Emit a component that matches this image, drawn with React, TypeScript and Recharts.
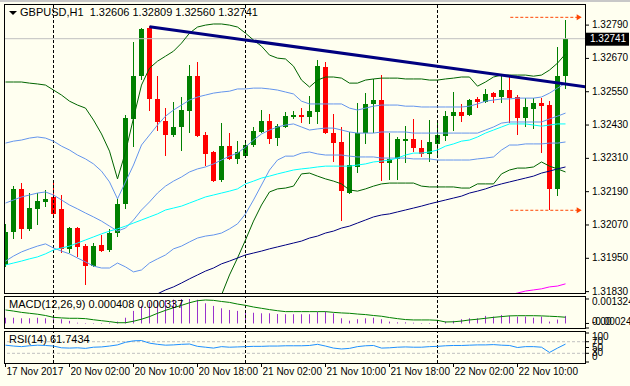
import React from "react";
import {
  ComposedChart,
  Bar,
  Line,
  XAxis,
  YAxis,
  ReferenceLine,
  ReferenceDot,
} from "recharts";

const FONT = "'Liberation Sans Narrow', 'Liberation Sans', Arial, sans-serif";
const BG = "#FFFFF0";

// GBPUSD H1, one entry per bar (17 Nov 18:00 .. 22 Nov 16:00)
const opens = [
  1.31925, 1.32044, 1.32199, 1.32055, 1.32127, 1.32152, 1.3217, 1.32127, 1.31983, 1.32058, 1.31993, 1.31921, 1.31997, 1.31979, 1.3204,
  1.32145, 1.32451, 1.32606, 1.32779, 1.32523, 1.32444, 1.32394, 1.32422, 1.3248, 1.32606, 1.32394, 1.32332, 1.32231, 1.32354, 1.32307,
  1.32318, 1.32358, 1.32404, 1.32444, 1.32383, 1.32422, 1.32458, 1.32466, 1.32458, 1.32476, 1.32639, 1.32401, 1.32368, 1.32185, 1.32278,
  1.32401, 1.32505, 1.3252, 1.32293, 1.32307, 1.32372, 1.32379, 1.32347, 1.32325, 1.32361, 1.3239, 1.32462, 1.32476, 1.32466, 1.32523,
  1.32512, 1.32545, 1.32531, 1.32556, 1.32531, 1.32455, 1.32487, 1.32509, 1.32502, 1.32199, 1.32606,
];
const highs = [
  1.32073, 1.3221, 1.32221, 1.32185, 1.32185, 1.32195, 1.32221, 1.32177, 1.32062, 1.32062, 1.32001, 1.32004, 1.32033, 1.32055, 1.32163,
  1.32466, 1.32729, 1.32779, 1.32786, 1.32606, 1.32491, 1.32512, 1.32531, 1.32646, 1.32657, 1.32404, 1.32336, 1.32437, 1.32401, 1.32372,
  1.32376, 1.32422, 1.32484, 1.32469, 1.32433, 1.32476, 1.3248, 1.32491, 1.32534, 1.32664, 1.32657, 1.32469, 1.32422, 1.32404, 1.32509,
  1.32545, 1.32595, 1.3261, 1.32401, 1.32386, 1.32426, 1.32451, 1.32376, 1.32448, 1.32448, 1.3248, 1.32549, 1.32505, 1.32523, 1.32531,
  1.32559, 1.32549, 1.32606, 1.32603, 1.32538, 1.32527, 1.32527, 1.32527, 1.32516, 1.32711, 1.32809,
];
const lows = [
  1.31918, 1.32019, 1.32019, 1.3205, 1.32069, 1.32134, 1.32105, 1.31968, 1.31968, 1.31954, 1.31853, 1.31918, 1.31972, 1.31972, 1.32026,
  1.32127, 1.3235, 1.32592, 1.3248, 1.32408, 1.32318, 1.32386, 1.32336, 1.32401, 1.32386, 1.32282, 1.32224, 1.32224, 1.32303, 1.32289,
  1.32314, 1.3235, 1.32401, 1.32361, 1.32354, 1.32419, 1.32451, 1.32437, 1.32433, 1.32433, 1.32397, 1.32296, 1.32084, 1.32182, 1.32257,
  1.32361, 1.32401, 1.32228, 1.32231, 1.32231, 1.32293, 1.32332, 1.32314, 1.32296, 1.32314, 1.32372, 1.32408, 1.3244, 1.32462, 1.32491,
  1.32509, 1.32509, 1.32509, 1.32437, 1.32394, 1.32422, 1.32415, 1.32329, 1.32123, 1.32174, 1.3256,
];
const closes = [
  1.32044, 1.32199, 1.32055, 1.3213, 1.32156, 1.32163, 1.32109, 1.31983, 1.32058, 1.3199, 1.31921, 1.31993, 1.31976, 1.3204, 1.32145,
  1.32455, 1.32606, 1.32776, 1.32523, 1.3244, 1.32394, 1.32422, 1.32484, 1.32606, 1.3239, 1.32325, 1.32228, 1.32354, 1.32307, 1.32332,
  1.32358, 1.32408, 1.32444, 1.32379, 1.32426, 1.32462, 1.32466, 1.32458, 1.3248, 1.32642, 1.32401, 1.32365, 1.32192, 1.32285, 1.32401,
  1.32505, 1.3252, 1.32293, 1.32307, 1.32379, 1.32379, 1.32347, 1.32325, 1.32368, 1.32394, 1.32462, 1.32476, 1.32462, 1.3252, 1.32512,
  1.32541, 1.32531, 1.32556, 1.32527, 1.32455, 1.32494, 1.32509, 1.32498, 1.32199, 1.32606, 1.32741,
];

// dark green envelope
const outerUpper = [
  1.32585, 1.32585, 1.32585, 1.32581, 1.32578, 1.32574, 1.32556, 1.32538, 1.32516, 1.32502, 1.32491, 1.32448, 1.32398, 1.32336, 1.32236,
  1.32333, 1.32455, 1.32574, 1.32635, 1.3266, 1.32678, 1.32696, 1.32725, 1.32761, 1.32783, 1.3279, 1.32794, 1.32794, 1.3279, 1.32783,
  1.32761, 1.32736, 1.32714, 1.32682, 1.32671, 1.32668, 1.32642, 1.32592, 1.32567, 1.32592, 1.32603, 1.32603, 1.32599, 1.32581, 1.32581,
  1.32592, 1.32596, 1.32599, 1.32599, 1.32599, 1.32596, 1.32596, 1.32596, 1.32592, 1.32592, 1.32596, 1.32599, 1.32603, 1.32603, 1.3257,
  1.32585, 1.32603, 1.3261, 1.3261, 1.3261, 1.3261, 1.32606, 1.3261, 1.32628, 1.32653, 1.32686,
];
const outerLowerFrom = 26;
const outerLower = [
  1.31735, 1.31818, 1.3189, 1.31951, 1.32016, 1.32084, 1.32142, 1.32189, 1.322, 1.32203, 1.3221, 1.32254, 1.32257, 1.32246, 1.32236,
  1.32228, 1.32218, 1.32196, 1.32192, 1.322, 1.3221, 1.32218, 1.32221, 1.32221, 1.32221, 1.32221, 1.3221, 1.32207, 1.32207, 1.32207,
  1.32207, 1.32203, 1.32203, 1.32218, 1.32218, 1.32218, 1.32254, 1.32268, 1.32275, 1.32275, 1.32279, 1.32297, 1.32282, 1.32272, 1.32261,
];

// cornflower bands
const innerUpper = [
  1.32365, 1.32372, 1.32376, 1.32383, 1.32387, 1.32383, 1.32372, 1.32354, 1.3234, 1.32322, 1.32308, 1.3229, 1.32264, 1.32225, 1.32164,
  1.32225, 1.32286, 1.32358, 1.32394, 1.3243, 1.32462, 1.32484, 1.32502, 1.3252, 1.32531, 1.32538, 1.32545, 1.32549, 1.32552, 1.3256,
  1.3256, 1.32563, 1.32563, 1.3256, 1.32556, 1.32549, 1.32542, 1.32516, 1.32506, 1.32506, 1.32506, 1.32506, 1.32506, 1.32491, 1.32484,
  1.32491, 1.32498, 1.32502, 1.32502, 1.32502, 1.32498, 1.32498, 1.32495, 1.32495, 1.32495, 1.32495, 1.32495, 1.32495, 1.32498, 1.32506,
  1.32516, 1.3252, 1.32524, 1.32524, 1.32527, 1.32527, 1.32527, 1.32531, 1.32545, 1.32563, 1.32581,
];
const innerMiddle = [
  1.32149, 1.3216, 1.32171, 1.32178, 1.32185, 1.32189, 1.32178, 1.3216, 1.32142, 1.32128, 1.32113, 1.32099, 1.32084, 1.32066, 1.32048,
  1.32059, 1.32088, 1.32124, 1.32153, 1.32185, 1.3221, 1.32228, 1.32243, 1.32261, 1.32272, 1.32279, 1.3229, 1.32304, 1.32318, 1.32329,
  1.32351, 1.32376, 1.32398, 1.32412, 1.32423, 1.3243, 1.32434, 1.32423, 1.32412, 1.32416, 1.32419, 1.32419, 1.32412, 1.32405, 1.32401,
  1.32401, 1.32401, 1.32405, 1.32405, 1.32405, 1.32405, 1.32401, 1.32401, 1.32401, 1.32401, 1.32401, 1.32401, 1.32401, 1.32401, 1.32401,
  1.32412, 1.32423, 1.32437, 1.32441, 1.32441, 1.32441, 1.32441, 1.32441, 1.32452, 1.32462, 1.32473,
];
const innerLower = [
  1.3194, 1.31958, 1.31973, 1.31984, 1.31994, 1.32002, 1.31987, 1.31976, 1.31966, 1.31951, 1.31937, 1.31922, 1.31915, 1.31915, 1.31933,
  1.31919, 1.31901, 1.31908, 1.31933, 1.31948, 1.31962, 1.31984, 1.31994, 1.32009, 1.32023, 1.3203, 1.32034, 1.32041, 1.32056, 1.32074,
  1.3211, 1.3216, 1.32214, 1.32268, 1.32304, 1.32318, 1.32318, 1.32329, 1.32333, 1.32326, 1.32322, 1.32322, 1.32322, 1.32318, 1.32315,
  1.32315, 1.32315, 1.32311, 1.32311, 1.32311, 1.32311, 1.32308, 1.32308, 1.32308, 1.32304, 1.32304, 1.32304, 1.32304, 1.32304, 1.32308,
  1.32311, 1.32315, 1.3234, 1.32358, 1.32358, 1.32362, 1.32362, 1.32362, 1.32365, 1.32365, 1.32369,
];

// moving averages
const cyanMa = [
  1.31926, 1.31933, 1.3194, 1.31948, 1.31955, 1.31966, 1.3198, 1.31987, 1.31994, 1.32005, 1.32016, 1.32027, 1.32038, 1.32048, 1.32056,
  1.32066, 1.32077, 1.32088, 1.32099, 1.3211, 1.32124, 1.32131, 1.32138, 1.32149, 1.3216, 1.32171, 1.32178, 1.32185, 1.32192, 1.322,
  1.32218, 1.32228, 1.32239, 1.32246, 1.32254, 1.32261, 1.32268, 1.32272, 1.32275, 1.32279, 1.32282, 1.32282, 1.32282, 1.32282, 1.32286,
  1.3229, 1.32297, 1.323, 1.32304, 1.32311, 1.32322, 1.32329, 1.32329, 1.32333, 1.3234, 1.32354, 1.32362, 1.32372, 1.32376, 1.32387,
  1.32401, 1.32412, 1.32423, 1.32434, 1.32434, 1.32434, 1.3243, 1.32426, 1.3243, 1.32434, 1.32434,
];
const navyMaFrom = 18;
const navyMa = [
  1.31807, 1.31822, 1.31836, 1.31847, 1.31861, 1.31876, 1.3189, 1.31904, 1.31915, 1.3193, 1.3194, 1.31951, 1.31962, 1.31969, 1.31976,
  1.31984, 1.31991, 1.31998, 1.32005, 1.32012, 1.32023, 1.3203, 1.32041, 1.32048, 1.32059, 1.32066, 1.32077, 1.32088, 1.32099, 1.32106,
  1.3211, 1.32117, 1.32124, 1.32131, 1.32138, 1.32146, 1.32153, 1.3216, 1.32167, 1.32174, 1.32185, 1.32192, 1.322, 1.3221, 1.32218,
  1.32225, 1.32232, 1.32239, 1.32246, 1.32257, 1.32264, 1.32272, 1.32279,
];
const magentaMaFrom = 63;
const magentaMa = [1.31818, 1.31825, 1.31832, 1.31836, 1.3184, 1.31847, 1.3185, 1.31858];

const macdMain = [
  0.00031, 0.00031, 0.00028, 0.00028, 0.00031, 0.00028, 0.00028, 0.00023, 0.00014, 0.00004, 0.00002, 0.00001, 0.00001, 0.00004, 0.0001,
  0.00031, 0.00068, 0.00096, 0.00114, 0.00123, 0.00127, 0.00129, 0.00132, 0.001324, 0.00128, 0.00109, 0.00095, 0.00082, 0.00073, 0.00068,
  0.00064, 0.00058, 0.00055, 0.00055, 0.00051, 0.0005, 0.0005, 0.0005, 0.0005, 0.00062, 0.00064, 0.00055, 0.00028, 0.00015, 0.00023,
  0.00028, 0.00031, 0.00023, 0.0001, 0.00006, 0.00006, 0.00004, 0.00001, -0.00002, 0.0, 0.0001, 0.00014, 0.00023, 0.00028, 0.00028,
  0.00041, 0.00037, 0.00046, 0.00042, 0.00037, 0.00037, 0.00031, 0.00037, 0.0001, 0.00021, 0.000408,
];
const macdSignal = [
  0.00073, 0.00067, 0.0006, 0.00055, 0.0005, 0.00043, 0.00033, 0.0003, 0.00028, 0.00028, 0.00026, 0.0002, 0.00015, 0.0001, 0.00004,
  0.00004, 0.00012, 0.00023, 0.00037, 0.00055, 0.00071, 0.00085, 0.00098, 0.00112, 0.00123, 0.00127, 0.00125, 0.00119, 0.00114, 0.00105,
  0.00098, 0.00089, 0.00082, 0.00075, 0.00069, 0.00064, 0.00064, 0.00064, 0.00064, 0.00064, 0.00064, 0.0006, 0.00057, 0.00055, 0.00051,
  0.00048, 0.00043, 0.00039, 0.00032, 0.00026, 0.00021, 0.00019, 0.00019, 0.00019, 0.00017, 0.00008, 0.00009, 0.00013, 0.00019, 0.00023,
  0.00028, 0.00033, 0.00037, 0.00041, 0.00042, 0.00042, 0.00042, 0.00041, 0.00039, 0.00037, 0.000337,
];
const rsiValues = [
  58, 55, 53, 56, 58, 57, 55, 49, 48, 49, 47, 51, 52, 55, 59,
  68, 73, 74, 65, 61, 58, 59, 61, 62, 54, 51, 48, 53, 51, 52,
  53, 54, 54, 55, 55, 56, 56, 56, 57, 61, 55, 48, 45, 47, 53,
  56, 57, 48, 49, 51, 52, 51, 51, 53, 54, 56, 57, 57, 58, 59,
  59, 60, 58, 57, 50, 53, 53, 51, 33, 48, 61.7434,
];

const priceTicks = [1.3183, 1.3195, 1.3207, 1.3219, 1.3231, 1.3243, 1.3255, 1.3267, 1.3279];
const macdTicks = [-0.000246, 0, 0.001324];
const rsiTicks = [0, 30, 50, 70, 100];
const rsiLevels = [70, 30];
const timeTickBars = [0, 8, 16, 24, 32, 40, 48, 56, 64];
const timeTickLabels = [
  "17 Nov 2017", "20 Nov 02:00", "20 Nov 10:00", "20 Nov 18:00", "21 Nov 02:00",
  "21 Nov 10:00", "21 Nov 18:00", "22 Nov 02:00", "22 Nov 10:00",
];
const daySeparators = [6, 30, 54];
const trendLine = [
  { bar: 18, price: 1.32784 },
  { bar: 72.5, price: 1.32568 },
];
const markerLevels = [1.32818, 1.32123];
const markerBars = [63.1, 71.9];

const rows = opens.map((open, i) => ({
  i,
  open,
  high: highs[i],
  low: lows[i],
  close: closes[i],
  gUp: outerUpper[i],
  gLo: i >= outerLowerFrom ? outerLower[i - outerLowerFrom] : null,
  bUp: innerUpper[i],
  bMid: innerMiddle[i],
  bLo: innerLower[i],
  cyan: cyanMa[i],
  navy: i >= navyMaFrom ? navyMa[i - navyMaFrom] : null,
  magenta: i >= magentaMaFrom ? magentaMa[i - magentaMaFrom] : null,
  macd: macdMain[i],
  signal: macdSignal[i],
  rsi: rsiValues[i],
}));

const xDomain: [number, number] = [-0.1875, 72.4375];
const last = rows.length - 1;
const CHART_W = 630;

const labelCss: React.CSSProperties = {
  fontFamily: FONT,
  fontSize: 10,
  lineHeight: "14px",
  whiteSpace: "nowrap",
  color: "#000",
  margin: 0,
};

const Candle = (props: any) => {
  const { x, y, width, height, payload } = props;
  const top = Math.min(y, y + height);
  const bot = Math.max(y, y + height);
  const span = payload.high - payload.low;
  const k = span > 0 ? (bot - top) / span : 0;
  const yOf = (v: number) => top + (payload.high - v) * k;
  const up = payload.close >= payload.open;
  const color = up ? "#008000" : "#FF0000";
  const cx = Math.floor(x + width / 2) + 0.5;
  const bTop = Math.round(yOf(Math.max(payload.open, payload.close)));
  const bBot = Math.round(yOf(Math.min(payload.open, payload.close)));
  return (
    <g>
      <line x1={cx} x2={cx} y1={Math.round(top)} y2={Math.round(bot)} stroke={color} strokeWidth={1} />
      <rect x={cx - 2.5} y={bTop} width={5} height={Math.max(1, bBot - bTop)} fill={color} />
    </g>
  );
};

const HistBar = (p: any) => {
  const top = Math.min(p.y, p.y + p.height);
  return (
    <rect x={Math.floor(p.x + p.width / 2)} y={top} width={1} height={Math.max(Math.abs(p.height), 0.5)} fill="#9932CC" />
  );
};

const Arrow = (p: any) => (
  <path d={`M${p.cx - 4},${p.cy - 3}L${p.cx + 1},${p.cy}L${p.cx - 4},${p.cy + 3}Z`} fill="#FF4500" />
);

const PriceTag = (p: any) => {
  const vb = p.viewBox || {};
  const x = vb.x + vb.width + 1;
  return (
    <g>
      <rect x={x} y={vb.y - 6} width={43} height={13} fill="#000" />
      <foreignObject x={x + 4} y={vb.y - 7} width={CHART_W - x - 4} height={14}>
        <div style={{ ...labelCss, color: "#fff" }}>{p.text}</div>
      </foreignObject>
    </g>
  );
};

// right-hand value labels; MT4 keeps the end labels a little inside the panel
const AxisTick = (p: any) => {
  const lo = p.minY ?? -Infinity;
  const hi = p.maxY ?? Infinity;
  const y = Math.min(Math.max(p.y, lo), hi);
  return (
    <foreignObject x={p.x} y={y - 7} width={CHART_W - p.x} height={14}>
      <div style={labelCss}>{p.fmt ? p.fmt(p.payload.value) : String(p.payload.value)}</div>
    </foreignObject>
  );
};

const TimeTick = (p: any) => {
  const idx = timeTickBars.indexOf(p.payload.value);
  return (
    <foreignObject x={p.x + 1} y={p.y - 3} width={60} height={14}>
      <div style={labelCss}>{timeTickLabels[idx]}</div>
    </foreignObject>
  );
};

const lineProps = { dot: false, isAnimationActive: false, strokeWidth: 1, type: "linear" as const, activeDot: false };

const panelBorder = (top: number, height: number): React.CSSProperties => ({
  position: "absolute",
  left: 4,
  top,
  width: 582,
  height,
  border: "1px solid #000",
  boxSizing: "border-box",
  pointerEvents: "none",
});

const textStyle: React.CSSProperties = {
  position: "absolute",
  fontFamily: FONT,
  fontSize: 11,
  lineHeight: "13px",
  color: "#000",
  whiteSpace: "pre",
};

export default function App() {
  const c = rows[last];
  const title = `GBPUSD,H1  ${c.open.toFixed(5)} ${c.high.toFixed(5)} ${c.low.toFixed(5)} ${c.close.toFixed(5)}`;
  return (
    <div
      style={{
        position: "absolute",
        left: 0,
        top: 0,
        width: 630,
        height: 386,
        background: BG,
        overflow: "hidden",
        fontFamily: FONT,
      }}
    >
      <div style={{ position: "absolute", left: 0, top: 0, width: 630, height: 2, background: "#C8C8C8" }} />

      {/* main price panel: plot area 4..585 x 4..293 */}
      <div style={{ position: "absolute", left: 0, top: 0 }}>
        <ComposedChart width={CHART_W} height={301} data={rows} margin={{ top: 4, right: 0, bottom: 8, left: 4 }}>
          <XAxis dataKey="i" type="number" domain={xDomain} allowDataOverflow hide />
          <YAxis
            orientation="right"
            width={45}
            domain={[1.31825, 1.32866]}
            allowDataOverflow
            ticks={priceTicks}
            interval={0}
            axisLine={false}
            tickLine={{ stroke: "#000" }}
            tickSize={4}
            tickMargin={3}
            tick={<AxisTick fmt={(v: number) => v.toFixed(5)} />}
          />
          {daySeparators.map((d) => (
            <ReferenceLine key={d} x={d} stroke="#000" strokeDasharray="3 2" />
          ))}
          <ReferenceLine y={c.close} stroke="#C0C0C0" label={<PriceTag text={c.close.toFixed(5)} />} />
          <Line dataKey="gUp" stroke="#006400" {...lineProps} />
          <Line dataKey="gLo" stroke="#006400" {...lineProps} />
          <Line dataKey="bUp" stroke="#6495ED" {...lineProps} />
          <Line dataKey="bMid" stroke="#6495ED" {...lineProps} />
          <Line dataKey="bLo" stroke="#6495ED" {...lineProps} />
          <Line dataKey="cyan" stroke="#00FFFF" {...lineProps} />
          <Line dataKey="navy" stroke="#000080" {...lineProps} />
          <Line dataKey="magenta" stroke="#FF00FF" {...lineProps} />
          <ReferenceLine
            segment={[
              { x: trendLine[0].bar, y: trendLine[0].price },
              { x: trendLine[1].bar, y: trendLine[1].price },
            ]}
            stroke="#000080"
            strokeWidth={3}
            ifOverflow="hidden"
          />
          {markerLevels.map((lv) => (
            <ReferenceLine
              key={"m" + lv}
              segment={[
                { x: markerBars[0], y: lv },
                { x: markerBars[1], y: lv },
              ]}
              stroke="#FF4500"
              strokeDasharray="3 2"
            />
          ))}
          {markerLevels.map((lv) => (
            <ReferenceDot key={"a" + lv} x={markerBars[1]} y={lv} shape={Arrow} />
          ))}
          <Bar dataKey={(d: any) => [d.low, d.high]} barSize={5} shape={Candle} isAnimationActive={false} />
        </ComposedChart>
      </div>

      {/* MACD panel: plot area 296..328 */}
      <div style={{ position: "absolute", left: 0, top: 289 }}>
        <ComposedChart width={CHART_W} height={41} data={rows} margin={{ top: 7, right: 0, bottom: 2, left: 4 }}>
          <XAxis dataKey="i" type="number" domain={xDomain} allowDataOverflow hide />
          <YAxis
            orientation="right"
            width={45}
            domain={[-0.000246, 0.001486]}
            allowDataOverflow
            ticks={macdTicks}
            interval={0}
            axisLine={false}
            tickLine={{ stroke: "#000" }}
            tickSize={4}
            tickMargin={3}
            tick={<AxisTick minY={13} maxY={33} fmt={(v: number) => (v === 0 ? "0.00" : v.toFixed(6))} />}
          />
          {daySeparators.map((d) => (
            <ReferenceLine key={d} x={d} stroke="#000" strokeDasharray="3 2" />
          ))}
          <Bar dataKey="macd" barSize={1} shape={HistBar} isAnimationActive={false} />
          <Line dataKey="signal" stroke="#008000" {...lineProps} />
        </ComposedChart>
      </div>

      {/* RSI panel: plot area 331..363, time axis below */}
      <div style={{ position: "absolute", left: 0, top: 324 }}>
        <ComposedChart width={CHART_W} height={62} data={rows} margin={{ top: 7, right: 0, bottom: 0, left: 4 }}>
          <XAxis
            dataKey="i"
            type="number"
            domain={xDomain}
            allowDataOverflow
            ticks={timeTickBars}
            interval={0}
            height={23}
            axisLine={false}
            tickLine={{ stroke: "#000" }}
            tickSize={4}
            tickMargin={1}
            tick={<TimeTick />}
          />
          <YAxis
            orientation="right"
            width={45}
            domain={[-3.4, 106.9]}
            allowDataOverflow
            ticks={rsiTicks}
            interval={0}
            axisLine={false}
            tickLine={{ stroke: "#000" }}
            tickSize={4}
            tickMargin={3}
            tick={<AxisTick minY={13} maxY={33} />}
          />
          {rsiLevels.map((lv) => (
            <ReferenceLine key={lv} y={lv} stroke="#C0C0C0" strokeDasharray="3 2" />
          ))}
          {daySeparators.map((d) => (
            <ReferenceLine key={d} x={d} stroke="#000" strokeDasharray="3 2" />
          ))}
          <Line dataKey="rsi" stroke="#1E90FF" {...lineProps} />
        </ComposedChart>
      </div>

      <div style={panelBorder(4, 290)} />
      <div style={panelBorder(296, 33)} />
      <div style={panelBorder(331, 33)} />

      <div
        style={{
          position: "absolute",
          left: 9,
          top: 11,
          width: 0,
          height: 0,
          borderLeft: "4px solid transparent",
          borderRight: "4px solid transparent",
          borderTop: "4px solid #000",
        }}
      />
      <div style={{ ...textStyle, left: 20, top: 6 }}>{title}</div>
      <div style={{ ...textStyle, left: 9, top: 298 }}>
        {`MACD(12,26,9) ${macdMain[last].toFixed(6)} ${macdSignal[last].toFixed(6)}`}
      </div>
      <div style={{ ...textStyle, left: 9, top: 333 }}>{`RSI(14) ${rsiValues[last].toFixed(4)}`}</div>
    </div>
  );
}
